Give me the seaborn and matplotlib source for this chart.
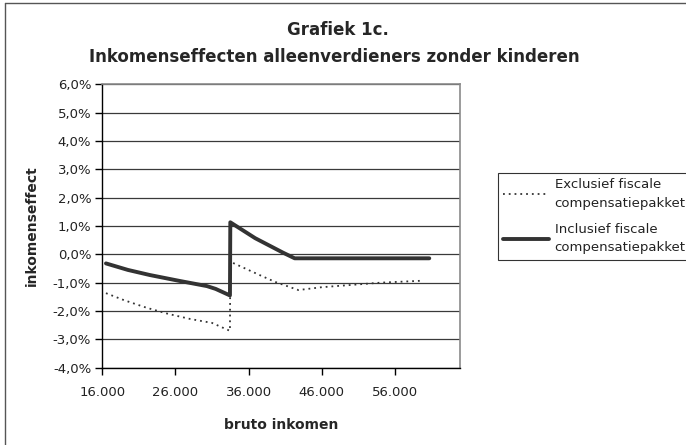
import matplotlib
matplotlib.use("Agg")
import matplotlib.pyplot as plt
import seaborn as sns
import pandas as pd
from matplotlib.lines import Line2D
from matplotlib.ticker import FuncFormatter

sns.set_theme(style="white")
plt.rcParams['font.family'] = ['DejaVu Sans']

# Data
income_excl = [16500, 19000, 22000, 25000, 28000, 31000, 33450, 33500, 37500, 39600, 42800, 46000, 50000, 54000, 59800]
effect_excl = [-1.37, -1.62, -1.88, -2.10, -2.28, -2.42, -2.70, -0.26, -0.73, -0.97, -1.26, -1.16, -1.08, -1.00, -0.93]

income_incl = [16500, 19500, 22500, 26600, 30300, 31500, 33450, 33500, 36900, 40700, 42300, 60700]
effect_incl = [-0.32, -0.55, -0.73, -0.94, -1.12, -1.22, -1.45, 1.13, 0.57, 0.06, -0.14, -0.14]

series_names = ["Exclusief fiscale\ncompensatiepakket", "Inclusief fiscale\ncompensatiepakket"]
y_ticks = [-4, -3, -2, -1, 0, 1, 2, 3, 4, 5, 6]
x_ticks = [16000, 26000, 36000, 46000, 56000]

df_excl = pd.DataFrame({"x": income_excl, "y": effect_excl})
df_incl = pd.DataFrame({"x": income_incl, "y": effect_incl})

fig = plt.figure(figsize=(6.86, 4.45), dpi=100)
ax = fig.add_axes([102.3 / 686, 1 - 367.7 / 445, (460 - 102.3) / 686, (367.7 - 84.3) / 445])

for yv in y_ticks:
    ax.axhline(yv, color="#3a3a3a", lw=0.9, zorder=1)

sns.lineplot(data=df_excl, x="x", y="y", ax=ax, sort=False, estimator=None,
             color="#333333", lw=1.3, linestyle=(0, (1, 2.2)), label=series_names[0], zorder=3)
sns.lineplot(data=df_incl, x="x", y="y", ax=ax, sort=False, estimator=None,
             color="#333333", lw=2.8, label=series_names[1], zorder=4)

ax.set_xlim(16000, 64900)
ax.set_ylim(-4, 6)
ax.set_yticks(y_ticks)
ax.set_xticks(x_ticks)
ax.yaxis.set_major_formatter(FuncFormatter(lambda v, p: f"{v:.1f}%".replace(".", ",")))
ax.xaxis.set_major_formatter(FuncFormatter(lambda v, p: f"{int(v):,}".replace(",", ".")))
ax.tick_params(axis="both", which="major", direction="out", length=5, width=1,
               color="black", labelsize=9.5, labelcolor="#222222", pad=3, left=True, bottom=True)
ax.tick_params(axis="x", pad=8)

for s in ["left", "bottom"]:
    ax.spines[s].set_color("black")
    ax.spines[s].set_linewidth(1)
for s in ["top", "right"]:
    ax.spines[s].set_color("#8a8a8a")
    ax.spines[s].set_linewidth(1.2)

ax.set_xlabel("bruto inkomen", fontsize=10, fontweight="bold", labelpad=14)
ax.set_ylabel("inkomenseffect", fontsize=10, fontweight="bold", labelpad=10)

fig.text(0.492, 1 - 30 / 445, "Grafiek 1c.", ha="center", va="center", fontsize=12, fontweight="bold")
fig.text(0.487, 1 - 57 / 445, "Inkomenseffecten alleenverdieners zonder kinderen",
         ha="center", va="center", fontsize=12, fontweight="bold")

leg = ax.legend(loc="upper left", bbox_to_anchor=(498 / 686, 1 - 173 / 445),
                bbox_transform=fig.transFigure, frameon=True, fancybox=False,
                fontsize=9.5, handlelength=3.5, handletextpad=0.4, borderpad=0.4,
                labelspacing=1.0, borderaxespad=0)
for t in leg.get_texts():
    t.set_linespacing(1.55)
    t.set_color("#222222")
leg.get_frame().set_edgecolor("black")
leg.get_frame().set_linewidth(0.8)

# outer chart border
fig.add_artist(Line2D([5 / 686, 5 / 686], [0, 1 - 3 / 445], transform=fig.transFigure, color="#555555", lw=1))
fig.add_artist(Line2D([5 / 686, 1], [1 - 3 / 445, 1 - 3 / 445], transform=fig.transFigure, color="#555555", lw=1))

fig.savefig("out.png", dpi=100)
